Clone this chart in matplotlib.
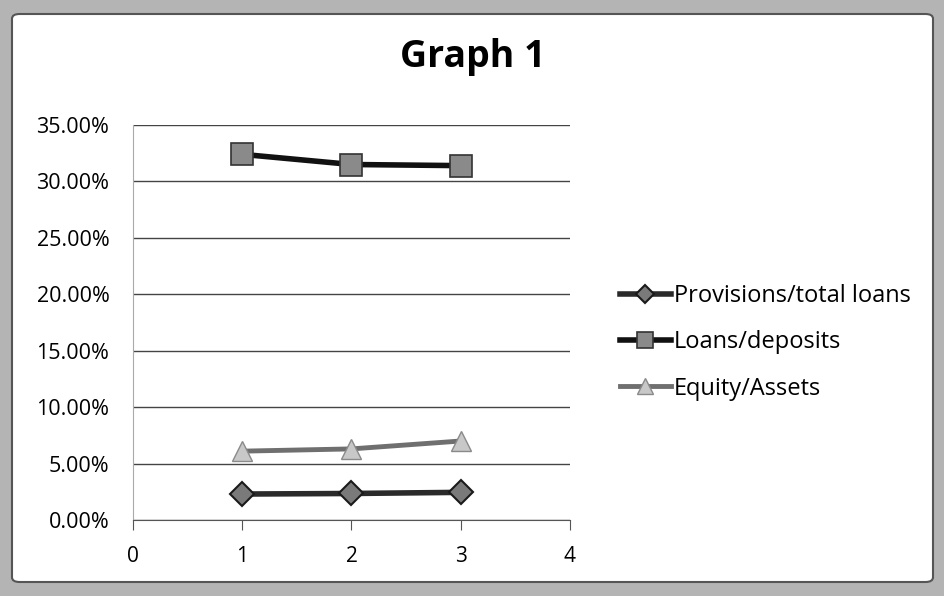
import matplotlib.pyplot as plt
from matplotlib.patches import FancyBboxPatch
from matplotlib.ticker import FuncFormatter

# Data
periods = [1, 2, 3]
provisions_total_loans = [2.3, 2.35, 2.45]
loans_deposits = [32.4, 31.5, 31.4]
equity_assets = [6.1, 6.3, 7.0]
y_ticks = [0, 5, 10, 15, 20, 25, 30, 35]
x_ticks = [0, 1, 2, 3, 4]

plt.rcParams['font.family'] = ['Open Sans', 'DejaVu Sans']

fig = plt.figure(figsize=(9.45, 5.96), dpi=100)
fig.patch.set_facecolor('#b4b4b4')

# white chart area with a dark rounded edge
frame = FancyBboxPatch((12 / 945, 14 / 596), 921 / 945, 568 / 596,
                       boxstyle='round,pad=0,rounding_size=0.008',
                       transform=fig.transFigure, facecolor='white',
                       edgecolor='#555555', linewidth=1.5, zorder=-5)
fig.patches.append(frame)

ax = fig.add_axes([133 / 945, 1 - 520 / 596, 437 / 945, 395 / 596])
ax.set_facecolor('none')
ax.set_zorder(2)

ax.plot(periods, provisions_total_loans, color='#2a2a2a', linewidth=4,
        marker='D', markersize=12, markerfacecolor='#7a7a7a',
        markeredgecolor='#1a1a1a', markeredgewidth=1.5,
        label='Provisions/total loans', zorder=3)
ax.plot(periods, loans_deposits, color='#111111', linewidth=4,
        marker='s', markersize=16, markerfacecolor='#8a8a8a',
        markeredgecolor='#333333', markeredgewidth=1.2,
        label='Loans/deposits', zorder=3)
ax.plot(periods, equity_assets, color='#6f6f6f', linewidth=3.5,
        marker='^', markersize=15, markerfacecolor='#c8c8c8',
        markeredgecolor='#8a8a8a', markeredgewidth=1,
        label='Equity/Assets', zorder=3)

ax.set_xlim(0, 4)
ax.set_ylim(0, 35)
ax.set_xticks(x_ticks)
ax.set_yticks(y_ticks)
ax.yaxis.set_major_formatter(FuncFormatter(lambda v, p: f'{v:.2f}%'))
ax.grid(axis='y', color='#444444', linewidth=1)
ax.set_axisbelow(True)

for side in ['top', 'right']:
    ax.spines[side].set_visible(False)
ax.spines['left'].set_color('#aaaaaa')
ax.spines['left'].set_linestyle((0, (2, 1)))
ax.spines['bottom'].set_color('#555555')
ax.tick_params(axis='x', direction='out', length=7, color='#555555',
               labelsize=15, pad=12)
ax.tick_params(axis='y', length=0, labelsize=15.5, pad=17)

fig.text(0.5, 1 - 67 / 596, 'Graph 1', ha='center', va='baseline',
         fontsize=27, fontweight='bold')

ax.legend(loc='center left', bbox_to_anchor=(1.087, 0.45), frameon=False,
          borderpad=0, fontsize=17, handlelength=2.15, handletextpad=0.15,
          labelspacing=0.95, markerscale=0.75)

fig.savefig('out.png', dpi=100, facecolor=fig.get_facecolor())
